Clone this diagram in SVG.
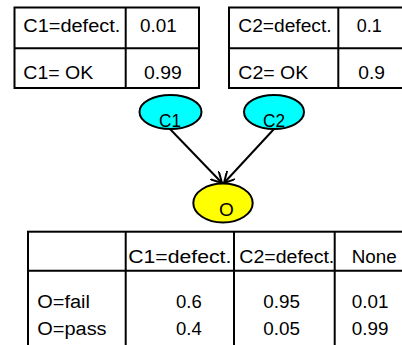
<svg xmlns="http://www.w3.org/2000/svg" width="402" height="345" viewBox="0 0 402 345">
<style>
.t{font-family:"Liberation Sans",Arial,sans-serif;font-size:18px;fill:#000}
.n{font-family:"Liberation Sans",Arial,sans-serif;font-size:19px;fill:#000}
.b{fill:#fff;stroke:#000;stroke-width:2}
.l{stroke:#000;stroke-width:2}
.e{stroke:#000;stroke-width:2}
.c{stroke:#000;stroke-width:2;fill:none}
</style>
<defs>
<marker id="ah" viewBox="0 0 12 12" refX="11" refY="6" markerWidth="12" markerHeight="12" markerUnits="userSpaceOnUse" orient="auto">
<path d="M0,0 L11,6 L0,12" fill="none" stroke="#000" stroke-width="2"/>
</marker>
</defs>
<g id="table-c1">
<rect class="b" x="14.5" y="7.5" width="184.5" height="80.5"/>
<line class="l" x1="14.5" y1="48.3" x2="199" y2="48.3"/>
<line class="l" x1="125.7" y1="7.5" x2="125.7" y2="88"/>
<text class="t" x="23.3" y="31.7" textLength="97" lengthAdjust="spacingAndGlyphs">C1=defect.</text>
<text class="t" x="140" y="31.7" textLength="36.7" lengthAdjust="spacingAndGlyphs">0.01</text>
<text class="t" x="23.3" y="79" textLength="70" lengthAdjust="spacingAndGlyphs">C1= OK</text>
<text class="t" x="144" y="79" textLength="37.7" lengthAdjust="spacingAndGlyphs">0.99</text>
</g>
<g id="table-c2">
<rect class="b" x="229" y="7.5" width="190" height="80.5"/>
<line class="l" x1="229" y1="48.3" x2="419" y2="48.3"/>
<line class="l" x1="338.3" y1="7.5" x2="338.3" y2="88"/>
<text class="t" x="238.3" y="31.7" textLength="93.3" lengthAdjust="spacingAndGlyphs">C2=defect.</text>
<text class="t" x="356.7" y="31.7" textLength="25" lengthAdjust="spacingAndGlyphs">0.1</text>
<text class="t" x="238.3" y="79" textLength="70" lengthAdjust="spacingAndGlyphs">C2= OK</text>
<text class="t" x="358.3" y="79" textLength="26.7" lengthAdjust="spacingAndGlyphs">0.9</text>
</g>
<g id="connectors">
<line class="c" x1="170" y1="129" x2="222" y2="183" marker-end="url(#ah)"/>
<line class="c" x1="274" y1="129" x2="224" y2="183" marker-end="url(#ah)"/>
</g>
<g id="node-c1">
<ellipse class="e" cx="170.5" cy="112" rx="31" ry="17" fill="#00FFFF"/>
<text class="n" x="170" y="127" text-anchor="middle" textLength="22" lengthAdjust="spacingAndGlyphs">C1</text>
</g>
<g id="node-c2">
<ellipse class="e" cx="274" cy="112" rx="30" ry="17" fill="#00FFFF"/>
<text class="n" x="274" y="127" text-anchor="middle" textLength="22" lengthAdjust="spacingAndGlyphs">C2</text>
</g>
<g id="node-o">
<ellipse class="e" cx="223" cy="203" rx="29.7" ry="19.5" fill="#FFFF00"/>
<text class="n" x="226.3" y="216" text-anchor="middle">O</text>
</g>
<g id="table-o">
<rect class="b" x="28" y="231.7" width="390" height="130"/>
<line class="l" x1="28" y1="270.7" x2="418" y2="270.7"/>
<line class="l" x1="125.7" y1="231.7" x2="125.7" y2="350"/>
<line class="l" x1="234" y1="231.7" x2="234" y2="350"/>
<line class="l" x1="334.7" y1="231.7" x2="334.7" y2="350"/>
<text class="t" x="128.3" y="263.3" textLength="103" lengthAdjust="spacingAndGlyphs">C1=defect.</text>
<text class="t" x="239.3" y="263.3" textLength="95" lengthAdjust="spacingAndGlyphs">C2=defect.</text>
<text class="t" x="351.7" y="263.3" textLength="45" lengthAdjust="spacingAndGlyphs">None</text>
<text class="t" x="37.3" y="308.3" textLength="52.7" lengthAdjust="spacingAndGlyphs">O=fail</text>
<text class="t" x="176" y="308.3" textLength="25.7" lengthAdjust="spacingAndGlyphs">0.6</text>
<text class="t" x="263.3" y="308.3" textLength="36.7" lengthAdjust="spacingAndGlyphs">0.95</text>
<text class="t" x="351.7" y="308.3" textLength="36.7" lengthAdjust="spacingAndGlyphs">0.01</text>
<text class="t" x="37.3" y="335" textLength="69.3" lengthAdjust="spacingAndGlyphs">O=pass</text>
<text class="t" x="176" y="335" textLength="25.7" lengthAdjust="spacingAndGlyphs">0.4</text>
<text class="t" x="263.3" y="335" textLength="36.7" lengthAdjust="spacingAndGlyphs">0.05</text>
<text class="t" x="351.7" y="335" textLength="36.7" lengthAdjust="spacingAndGlyphs">0.99</text>
</g>
</svg>
